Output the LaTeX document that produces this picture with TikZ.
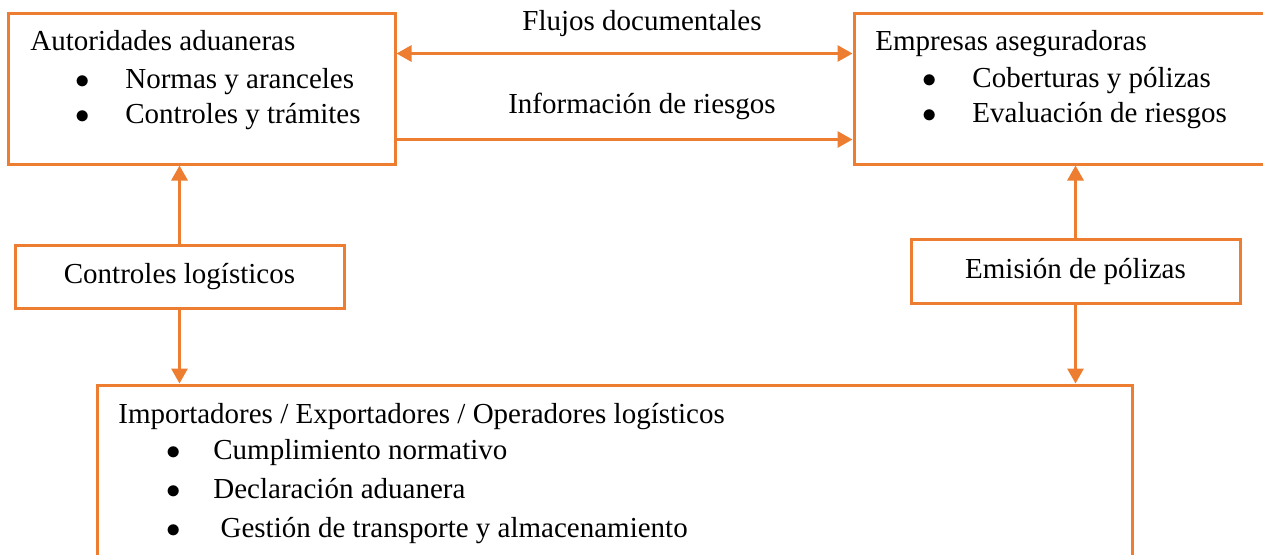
\documentclass[tikz,border=0pt]{standalone}
\usepackage{fontspec}
\setmainfont{Liberation Serif}
\usetikzlibrary{arrows.meta}
\definecolor{naranja}{HTML}{ED7D31}
\tikzset{
	caja/.style={draw=naranja, line width=1.5pt, rectangle, inner sep=0pt, font=\fontsize{14.5}{17}\selectfont},
	flecha/.style={draw=naranja, line width=1.5pt},
	texto/.style={anchor=base west, inner sep=0pt, font=\fontsize{14.5}{17}\selectfont},
	punto/.style={anchor=base, inner sep=0pt, font=\fontsize{14.5}{17}\selectfont},
}

\begin{document}
\begin{tikzpicture}[x=0.5pt,y=-0.5pt,>={Triangle[length=7.5pt,width=8pt]}]
		\useasboundingbox (0,0) rectangle (1263,554);
		\clip (0,0) rectangle (1263,554);
		
		% Cajas grandes (arriba izquierda, arriba derecha, abajo)
		\node[caja, minimum width=193.5pt, minimum height=75.5pt] (aut) at (201.5,88.5) {};
		\node[caja, minimum width=210.5pt, minimum height=75.5pt] (emp) at (1064.5,88.5) {};
		\node[caja, minimum width=517.5pt, minimum height=107.5pt] (imp) at (614.5,492.5) {};
		
		% Cajas intermedias
		\node[caja, minimum width=164.5pt, minimum height=31.5pt] (ctrl) at (179.5,276.5) {Controles logísticos};
		\node[caja, minimum width=164.5pt, minimum height=32pt] (emi) at (1075.5,271) {Emisión de pólizas};
		
		% Autoridades aduaneras
		\node[texto] (autT) at (30,50) {Autoridades aduaneras};
		\foreach \t [count=\i] in {Normas y aranceles, Controles y trámites}{
			\node[punto] (autB\i) at (83,53+35*\i) {$\bullet$};
			\node[texto] (autL\i) at (125,53+35*\i) {\t};
		}
		
		% Empresas aseguradoras
		\node[texto] (empT) at (875,50) {Empresas aseguradoras};
		\foreach \t [count=\i] in {Coberturas y pólizas, Evaluación de riesgos}{
			\node[punto] (empB\i) at (930,52+35*\i) {$\bullet$};
			\node[texto] (empL\i) at (972,52+35*\i) {\t};
		}
		
		% Importadores / Exportadores / Operadores
		\node[texto] (impT) at (118,423) {Importadores / Exportadores / Operadores logísticos};
		\foreach \t [count=\i] in {Cumplimiento normativo, Declaración aduanera, {\ Gestión de transporte y almacenamiento}}{
			\node[punto] (impB\i) at (174,420+39*\i) {$\bullet$};
			\node[texto] (impL\i) at (213,420+39*\i) {\t};
		}
		
		% Flujos entre autoridades y aseguradoras
		\node[punto] (flujos) at (642,30) {Flujos documentales};
		\node[punto] (info) at (642,113) {Información de riesgos};
		\draw[flecha,<->] ([yshift=-21pt]aut.north east) -- ([yshift=-21pt]emp.north west);
		\draw[flecha,->] ([yshift=13pt]aut.south east) -- ([yshift=13pt]emp.south west);
		
		% Flechas verticales
		\draw[flecha,->] (ctrl.north) -- (ctrl.north |- aut.south);
		\draw[flecha,->] (ctrl.south) -- (ctrl.south |- imp.north);
		\draw[flecha,->] (emi.north) -- (emi.north |- emp.south);
		\draw[flecha,->] (emi.south) -- (emi.south |- imp.north);
		
	\end{tikzpicture}
\end{document}
